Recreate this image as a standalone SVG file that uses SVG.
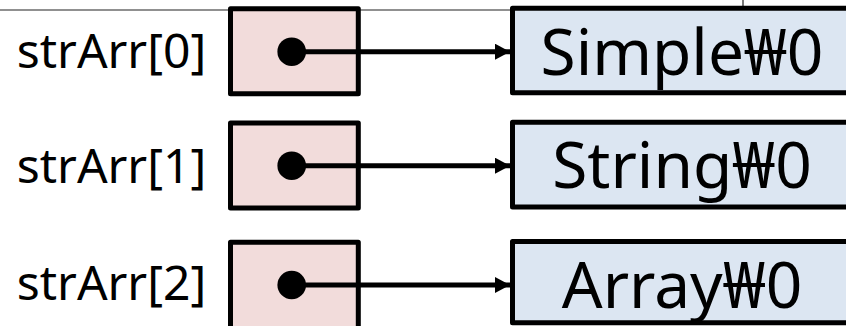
<svg xmlns="http://www.w3.org/2000/svg" width="846" height="326" viewBox="0 0 846 326">
<defs>
<style>
.lbl{font-family:"Noto Sans","Liberation Sans",sans-serif;font-size:48px;fill:#000;text-anchor:middle}
.val{font-family:"Noto Sans","Liberation Sans",sans-serif;font-size:64px;fill:#000;text-anchor:middle}
.ptr{fill:#f2dcdb;stroke:#000;stroke-width:5;stroke-linejoin:round}
.str{fill:#dce6f2;stroke:#000;stroke-width:5;stroke-linejoin:round}
.conn{stroke:#000;stroke-width:5;fill:none;marker-end:url(#ah)}
</style>
<marker id="ah" viewBox="0 0 15 16" refX="15" refY="8" markerWidth="15" markerHeight="16" markerUnits="userSpaceOnUse" orient="auto">
<path d="M0,0 L15,8 L0,16 Z" fill="#000"/>
</marker>
</defs>
<rect width="846" height="326" fill="#fff"/>
<g id="frame">
<line x1="0" y1="10" x2="513" y2="10" stroke="#222" stroke-width="1.2"/>
<line x1="743" y1="0" x2="743" y2="7" stroke="#222" stroke-width="1.2"/>
</g>
<g id="label0"><text class="lbl" x="111.5" y="68">strArr[0]</text></g>
<g id="label1"><text class="lbl" x="111.5" y="183">strArr[1]</text></g>
<g id="label2"><text class="lbl" x="111.5" y="300">strArr[2]</text></g>
<g id="ptr0"><rect class="ptr" x="230.5" y="8.8" width="127.8" height="85"/></g>
<g id="ptr1"><rect class="ptr" x="230.5" y="123" width="127.8" height="85"/></g>
<g id="ptr2"><rect class="ptr" x="230.5" y="242.2" width="127.8" height="100"/></g>
<g id="str0"><rect class="str" x="512.5" y="8.2" width="360" height="84.6"/><text class="val" x="682" y="75">Simple₩0</text></g>
<g id="str1"><rect class="str" x="512.5" y="122.2" width="360" height="84.8"/><text class="val" x="682" y="188">String₩0</text></g>
<g id="str2"><rect class="str" x="512.5" y="241.5" width="360" height="81.3"/><text class="val" x="682" y="308">Array₩0</text></g>
<g id="connectors">
<line class="conn" x1="291.7" y1="51.7" x2="510" y2="51.7"/>
<line class="conn" x1="291.7" y1="165.7" x2="510" y2="165.7"/>
<line class="conn" x1="291.7" y1="285" x2="510" y2="285"/>
<circle cx="291.7" cy="51.7" r="14.3" fill="#000"/>
<circle cx="291.7" cy="165.7" r="14.3" fill="#000"/>
<circle cx="291.7" cy="285" r="14.3" fill="#000"/>
</g>
</svg>
